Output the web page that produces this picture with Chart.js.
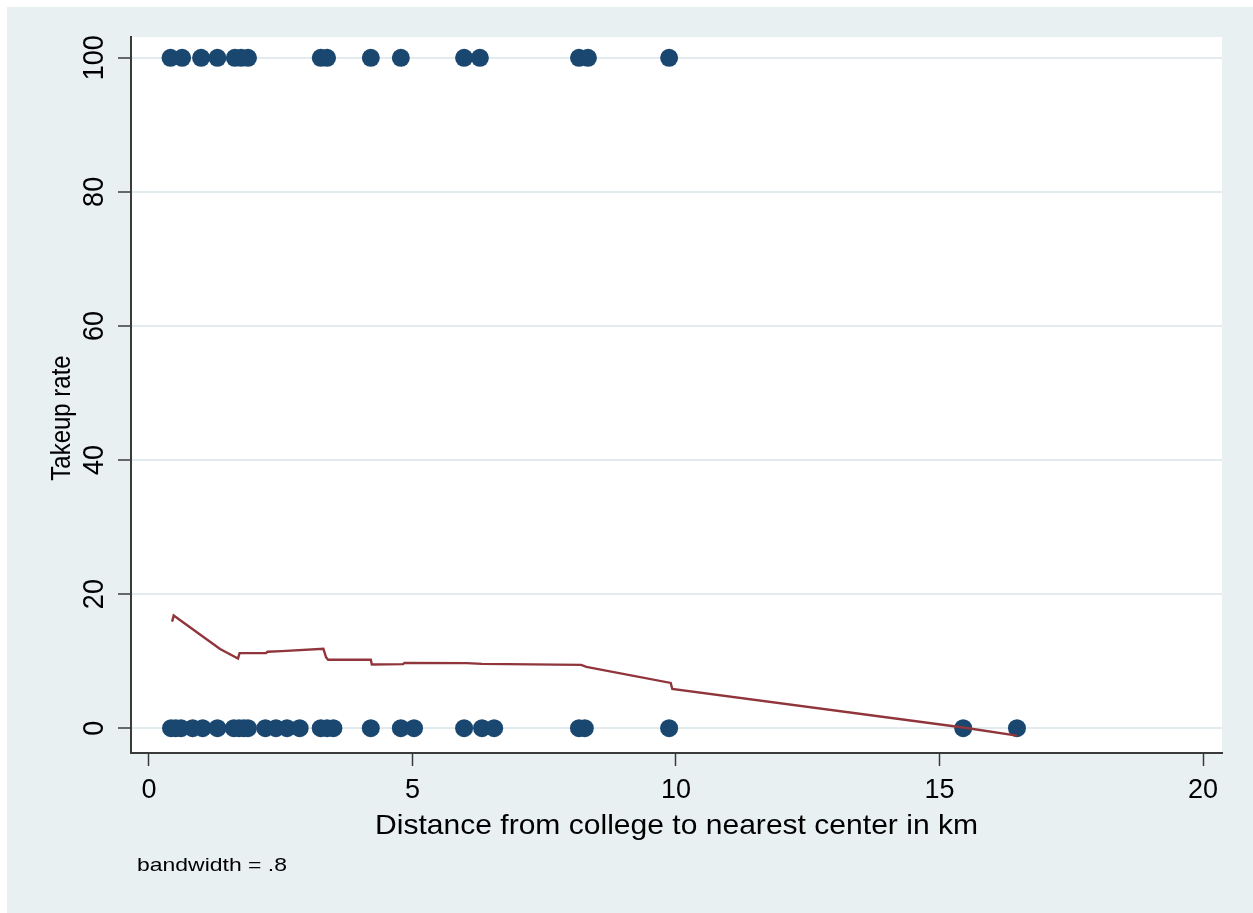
<!DOCTYPE html>
<html>
<head>
<meta charset="utf-8">
<script src="https://cdn.jsdelivr.net/npm/chart.js@4.4.1/dist/chart.umd.min.js"></script>
<style>
  html, body { margin: 0; padding: 0; background: #ffffff; }
  #wrap { width: 1253px; height: 913px; position: relative; }
</style>
</head>
<body>
<div id="wrap"><canvas id="c" width="1253" height="913"></canvas></div>
<script>
// Colleges whose takeup rate is 100 / 0, by distance (km)
const distRateFull = [0.41, 0.63, 0.99, 1.30, 1.63, 1.75, 1.88, 3.26, 3.38, 4.21, 4.78, 5.98, 6.28, 8.16, 8.33, 9.87];
const distRateZero = [0.42, 0.51, 0.61, 0.83, 1.02, 1.30, 1.61, 1.71, 1.80, 1.88, 2.21, 2.41, 2.62, 2.86,
                      3.26, 3.38, 3.50, 4.21, 4.78, 5.03, 5.98, 6.32, 6.55, 8.16, 8.27, 9.87, 15.45, 16.47];
const rateFull = 100;
const rateZero = 0;

// Lowess smooth of takeup rate on distance
const lowessX = [0.44, 0.47, 1.35, 1.69, 1.72, 2.22, 2.25, 2.52, 3.31, 3.36, 3.40, 4.21, 4.23, 4.82, 4.85,
                 6.03, 6.32, 8.20, 8.30, 9.90, 9.93, 15.45, 16.47];
const lowessY = [15.9, 16.8, 11.8, 10.4, 11.2, 11.2, 11.4, 11.5, 11.85, 10.6, 10.2, 10.2, 9.5, 9.55, 9.75,
                 9.7, 9.6, 9.45, 9.15, 6.75, 5.85, 0.1, -1.1];

const xTicks = [0, 5, 10, 15, 20];
const yTicks = [0, 20, 40, 60, 80, 100];
const xTitle = 'Distance from college to nearest center in km';
const yTitle = 'Takeup rate';
const noteText = 'bandwidth = .8';

const FONT = '"Liberation Sans", Arial, Helvetica, sans-serif';
const BG = '#e8f0f2';
const AXIS = '#3a3a3a';

// draws text with a horizontal stretch so it spans the given width
function wideText(ctx, text, x, y, width) {
  const w = ctx.measureText(text).width;
  ctx.save();
  ctx.translate(x, y);
  ctx.scale(width / w, 1);
  ctx.fillText(text, 0, 0);
  ctx.restore();
}

// draws text turned to read upwards, widened across the page
function upText(ctx, text, x, y, widen) {
  ctx.save();
  ctx.translate(x, y);
  ctx.rotate(-Math.PI / 2);
  ctx.scale(1, widen);
  ctx.fillText(text, 0, 0);
  ctx.restore();
}

const backdrop = {
  id: 'backdrop',
  beforeDraw(chart) {
    const { ctx, chartArea: a } = chart;
    ctx.save();
    ctx.fillStyle = '#ffffff';
    ctx.fillRect(0, 0, chart.width, chart.height);
    ctx.fillStyle = BG;
    ctx.fillRect(7, 7, chart.width - 7, chart.height - 7);
    ctx.fillStyle = '#ffffff';
    ctx.fillRect(a.left, a.top, a.right - a.left, a.bottom - a.top);
    ctx.restore();
  }
};

const labels = {
  id: 'labels',
  afterDraw(chart) {
    const { ctx } = chart;
    const ys = chart.scales.y;
    ctx.save();
    ctx.fillStyle = '#000000';
    ctx.textAlign = 'center';
    ctx.textBaseline = 'middle';
    // vertical tick labels on the rate axis
    ctx.font = '27px ' + FONT;
    yTicks.forEach(v => upText(ctx, String(v), 95, ys.getPixelForValue(v), 1.12));
    // axis titles
    ctx.font = '24px ' + FONT;
    upText(ctx, yTitle, 62, 418, 1.15);
    ctx.font = '28px ' + FONT;
    wideText(ctx, xTitle, (chart.chartArea.left + chart.chartArea.right) / 2, 826, 603);
    // smoother note
    ctx.font = '19px ' + FONT;
    ctx.textAlign = 'left';
    wideText(ctx, noteText, 137, 866, 150);
    ctx.restore();
  }
};

new Chart(document.getElementById('c'), {
  type: 'scatter',
  data: {
    datasets: [
      {
        type: 'line',
        data: lowessX.map((x, i) => ({ x, y: lowessY[i] })),
        borderColor: '#90353b',
        borderWidth: 2.4,
        pointRadius: 0,
        fill: false,
        tension: 0,
        order: 0
      },
      {
        data: distRateFull.map(x => ({ x, y: rateFull }))
          .concat(distRateZero.map(x => ({ x, y: rateZero }))),
        backgroundColor: '#1a476f',
        borderColor: '#1a476f',
        borderWidth: 0,
        pointRadius: 9,
        order: 1
      }
    ]
  },
  options: {
    responsive: false,
    animation: false,
    devicePixelRatio: 1,
    layout: { padding: { left: 0, right: 31, top: 37, bottom: 0 } },
    plugins: { legend: { display: false }, tooltip: { enabled: false } },
    events: [],
    scales: {
      x: {
        type: 'linear',
        min: -0.34,
        max: 20.36,
        afterBuildTicks: s => { s.ticks = xTicks.map(v => ({ value: v })); },
        afterFit: s => { s.height = 913 - 753; },
        ticks: { font: { family: FONT, size: 27 }, color: '#000000', padding: 8, maxRotation: 0 },
        grid: { drawOnChartArea: false, tickLength: 13, tickColor: AXIS, tickWidth: 1.5 },
        border: { color: AXIS, width: 2 }
      },
      y: {
        type: 'linear',
        min: -3.7,
        max: 103.1,
        afterBuildTicks: s => { s.ticks = yTicks.map(v => ({ value: v })); },
        afterFit: s => { s.width = 131; },
        ticks: { display: false },
        grid: { color: '#e2ebee', lineWidth: 2, tickLength: 13, tickColor: AXIS, tickWidth: 1.5 },
        border: { color: AXIS, width: 2 }
      }
    }
  },
  plugins: [backdrop, labels]
});
</script>
</body>
</html>
